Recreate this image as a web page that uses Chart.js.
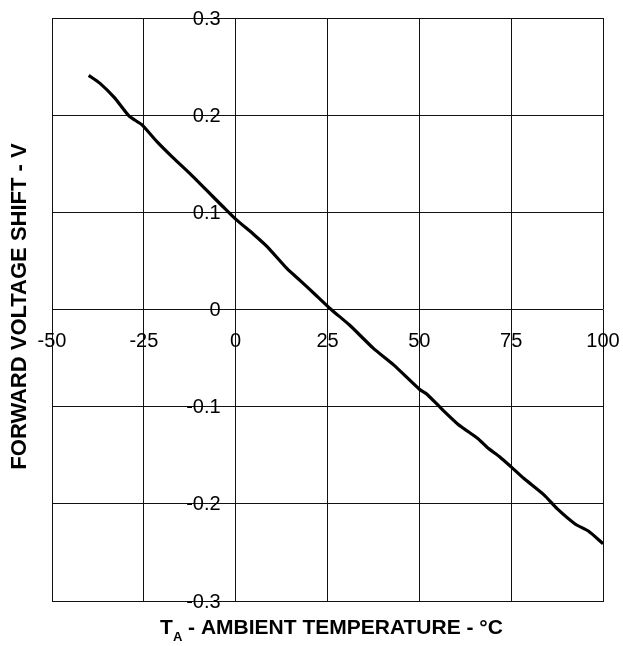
<!DOCTYPE html>
<html>
<head>
<meta charset="utf-8">
<title>Forward voltage shift vs ambient temperature</title>
<script src="https://cdn.jsdelivr.net/npm/chart.js@4"></script>
<style>
  body { margin: 0; background: #fff; }
  canvas { display: block; }
</style>
</head>
<body>
<canvas id="myChart" width="623" height="646"></canvas>
<script>
  // curve (deg C, volts)
  const temps = [-40, -37, -33, -29, -25.5, -21.5, -17, -12.5, -8, -3.5, 0, 5, 8.5, 14, 17.5, 21.5, 26, 31, 37.5, 43, 50, 52, 56, 60.5, 66, 68.5, 72, 75, 78.5, 84, 87.5, 92.5, 96, 100];
  const shift = [0.241, 0.233, 0.218, 0.199, 0.190, 0.173, 0.156, 0.140, 0.123, 0.106, 0.093, 0.077, 0.065, 0.042, 0.030, 0.016, 0.0, -0.016, -0.040, -0.057, -0.082, -0.087, -0.102, -0.118, -0.133, -0.142, -0.152, -0.162, -0.174, -0.191, -0.205, -0.221, -0.228, -0.241];

  const xTicks = [-50, -25, 0, 25, 50, 75, 100];
  const yTicks = [0.3, 0.2, 0.1, 0, -0.1, -0.2, -0.3];

  const yTitle = 'FORWARD VOLTAGE SHIFT - V';
  const xTitleMain = 'T';
  const xTitleSub = 'A';
  const xTitleRest = ' - AMBIENT TEMPERATURE - °C';

  const tickFont = '20px "Liberation Sans", Arial, sans-serif';
  const titleFont = 'bold 21px "Liberation Sans", Arial, sans-serif';
  const subFont = 'bold 13px "Liberation Sans", Arial, sans-serif';

  // tick labels sit on the zero lines, titles outside the frame
  const labelsPlugin = {
    id: 'labels',
    afterDraw(chart) {
      const ctx = chart.ctx;
      const xs = chart.scales.x;
      const ys = chart.scales.y;
      const area = chart.chartArea;
      const x0 = xs.getPixelForValue(0);
      const y0 = ys.getPixelForValue(0);
      ctx.save();
      ctx.fillStyle = '#000';
      ctx.font = tickFont;

      ctx.textAlign = 'right';
      ctx.textBaseline = 'middle';
      yTicks.forEach(v => {
        const txt = v === 0 ? '0' : v.toFixed(1);
        ctx.fillText(txt, x0 - 15, ys.getPixelForValue(v) + 1);
      });

      ctx.textAlign = 'center';
      xTicks.forEach(v => {
        ctx.fillText(String(v), xs.getPixelForValue(v), y0 + 32);
      });

      // y title
      ctx.font = 'bold 22px "Liberation Sans", Arial, sans-serif';
      ctx.translate(20, (area.top + area.bottom) / 2 - 3);
      ctx.rotate(-Math.PI / 2);
      ctx.textAlign = 'center';
      ctx.textBaseline = 'middle';
      ctx.fillText(yTitle, 0, 0);
      ctx.setTransform(1, 0, 0, 1, 0, 0);

      // x title with subscript
      ctx.font = titleFont;
      const wMain = ctx.measureText(xTitleMain).width;
      const wRest = ctx.measureText(xTitleRest).width;
      ctx.font = subFont;
      const wSub = ctx.measureText(xTitleSub).width;
      let x = (area.left + area.right) / 2 + 4 - (wMain + wSub + wRest) / 2;
      const base = 634;
      ctx.textAlign = 'left';
      ctx.textBaseline = 'alphabetic';
      ctx.font = titleFont;
      ctx.fillText(xTitleMain, x, base);
      x += wMain;
      ctx.font = subFont;
      ctx.fillText(xTitleSub, x, base + 7);
      x += wSub;
      ctx.font = titleFont;
      ctx.fillText(xTitleRest, x, base);
      ctx.restore();
    }
  };

  const ctx = document.getElementById('myChart').getContext('2d');
  const chart = new Chart(ctx, {
    type: 'line',
    data: {
      datasets: [{
        data: temps.map((t, i) => ({ x: t, y: shift[i] })),
        borderColor: '#000',
        borderWidth: 3.2,
        pointRadius: 0,
        tension: 0.2,
        fill: false
      }]
    },
    options: {
      responsive: false,
      devicePixelRatio: 1,
      animation: false,
      layout: { padding: { left: 52, top: 18, right: 20, bottom: 45 } },
      plugins: { legend: { display: false }, tooltip: { enabled: false } },
      scales: {
        x: {
          type: 'linear',
          min: -50,
          max: 100,
          ticks: { display: false, stepSize: 25 },
          grid: { color: '#111', lineWidth: 1, drawTicks: false },
          border: { color: '#111', width: 1 }
        },
        y: {
          type: 'linear',
          min: -0.3,
          max: 0.3,
          ticks: { display: false, stepSize: 0.1 },
          grid: { color: '#111', lineWidth: 1, drawTicks: false },
          border: { color: '#111', width: 1 }
        }
      }
    },
    plugins: [labelsPlugin]
  });
</script>
</body>
</html>
